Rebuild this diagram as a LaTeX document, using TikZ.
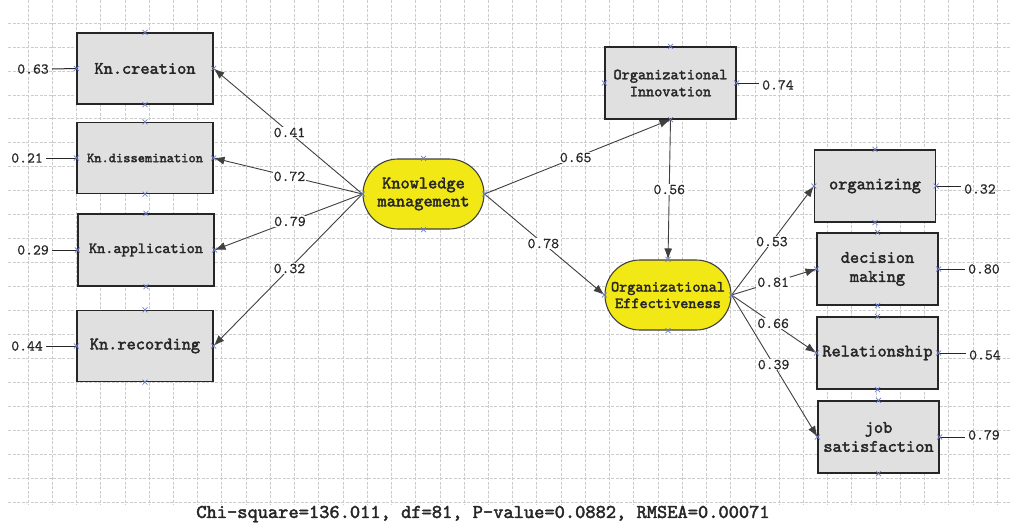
\documentclass[tikz,border=0pt]{standalone}
\usepackage{fontspec}
\newfontfamily\cour{lmmono10-regular.otf}[AutoFakeBold=2.2]
\newfontfamily\courn{lmmono10-regular.otf}[FakeBold=0.7]
\usetikzlibrary{arrows.meta}
\definecolor{boxgray}{RGB}{224,224,224}
\definecolor{semyellow}{RGB}{242,232,22}
\definecolor{xblue}{RGB}{110,128,200}
\begin{document}
\begin{tikzpicture}[x=1pt,y=-1pt,
  gridl/.style={draw=black!20, line width=0.7pt, dash pattern=on 3pt off 1.5pt},
  obox/.style={draw=black!85, fill=boxgray, line width=1.1pt, inner sep=0pt, align=center,
    text=black!85, font=\cour\bfseries\fontsize{17.5}{19}\selectfont},
  stad/.style={draw=black!75, fill=semyellow, line width=1.1pt, inner sep=0pt, align=center,
    rounded corners=35pt, text=black!85},
  errn/.style={inner sep=3pt, text=black!85, font=\courn\fontsize{15}{17}\selectfont},
  lab/.style={fill=white, inner sep=1pt, text=black!85, font=\courn\fontsize{15}{17}\selectfont},
  arr/.style={draw=black!75, line width=0.9pt, -{Latex[length=11pt,width=8pt]}},
  eline/.style={draw=black!85, line width=1pt},
  xm/.style={draw=xblue, line width=0.7pt}
]
\useasboundingbox (0,0) rectangle (1011,525);
\fill[white] (0,0) rectangle (1011,525);
% grid
\foreach \k in {0,...,40} \draw[gridl] ({28+24.23*\k},0) -- ({28+24.23*\k},505);
\foreach \k in {0,...,20} \draw[gridl] (8,{23+23.95*\k}) -- (1011,{23+23.95*\k});

% left indicators
\node[obox, minimum width=136pt, minimum height=71pt] (kc) at (145,68.5) {Kn.creation};
\node[obox, minimum width=136pt, minimum height=71pt, font=\cour\bfseries\fontsize{13.8}{16}\selectfont] (kd) at (145,158) {Kn.dissemination};
\node[obox, minimum width=136pt, minimum height=72pt, font=\cour\bfseries\fontsize{15.5}{18}\selectfont] (ka) at (146,250) {Kn.application};
\node[obox, minimum width=136pt, minimum height=71pt] (kr) at (145,346) {Kn.recording};

% latent / others
\node[stad, minimum width=121pt, minimum height=70pt, font=\cour\bfseries\fontsize{17.5}{18}\selectfont] (km) at (423.5,194) {Knowledge\\management};
\node[obox, minimum width=131pt, minimum height=72pt, font=\cour\bfseries\fontsize{15.5}{17}\selectfont] (oi) at (670.5,83) {Organizational\\Innovation};
\node[stad, minimum width=126pt, minimum height=70pt, font=\cour\bfseries\fontsize{15.5}{16.5}\selectfont] (oe) at (668,295) {Organizational\\Effectiveness};

% right indicators
\node[obox, minimum width=121pt, minimum height=72pt] (org) at (875,186) {organizing};
\node[obox, minimum width=121pt, minimum height=72pt] (dm) at (877.5,269) {decision\\making};
\node[obox, minimum width=121pt, minimum height=72pt] (rel) at (877.5,353) {Relationship};
\node[obox, minimum width=121pt, minimum height=72pt] (js) at (878.5,437) {job\\satisfaction};

% error terms
\node[errn, anchor=east] (e1) at (52,69) {0.63};
\node[errn, anchor=east] (e2) at (46,158) {0.21};
\node[errn, anchor=east] (e3) at (52,250) {0.29};
\node[errn, anchor=east] (e4) at (46,346) {0.44};
\draw[eline] (e1.east) -- (kc.west);
\draw[eline] (e2.east) -- (kd.west);
\draw[eline] (e3.east) -- (ka.west);
\draw[eline] (e4.east) -- (kr.west);

\node[errn, anchor=west] (e5) at (759,85) {0.74};
\node[errn, anchor=west] (e6) at (961,189) {0.32};
\node[errn, anchor=west] (e7) at (965,269) {0.80};
\node[errn, anchor=west] (e8) at (966,355) {0.54};
\node[errn, anchor=west] (e9) at (965,435) {0.79};
\draw[eline] (oi.east) -- (e5.west |- oi.east);
\draw[eline] (org.east) -- (e6.west |- org.east);
\draw[eline] (dm.east) -- (e7.west |- dm.east);
\draw[eline] (rel.east) -- (e8.west |- rel.east);
\draw[eline] (js.east) -- (e9.west |- js.east);

% structural paths
\draw[arr] (km.west) -- node[lab, pos=0.49] {0.41} (kc.east);
\draw[arr] (km.west) -- node[lab, pos=0.49] {0.72} (kd.east);
\draw[arr] (km.west) -- node[lab, pos=0.49] {0.79} (ka.east);
\draw[arr] (km.west) -- node[lab, pos=0.49] {0.32} (kr.east);
\draw[arr] (km.east) -- node[lab, pos=0.49] {0.65} (oi.south);
\draw[arr] (km.east) -- node[lab, pos=0.49] {0.78} (oe.west);
\draw[arr] (oi.south) -- node[lab, pos=0.5] {0.56} (oe.north);
\draw[arr] (oe.east) -- node[lab, pos=0.49] {0.53} (org.west);
\draw[arr] (oe.east) -- node[lab, pos=0.49] {0.81} (dm.west);
\draw[arr] (oe.east) -- node[lab, pos=0.49] {0.66} (rel.west);
\draw[arr] (oe.east) -- node[lab, pos=0.49] {0.39} (js.west);

% anchor marks
\foreach \n in {kc,kd,ka,kr,km,oi,oe,org,dm,rel,js}
  \foreach \a in {north,south,east,west}
    \draw[xm, shift={(\n.\a)}] (-2.5,-2.5) -- (2.5,2.5) (-2.5,2.5) -- (2.5,-2.5);

% fit statistics
\node[font=\cour\bfseries\fontsize{19.5}{21}\selectfont, text=black!85] (fit) at (483,514) {Chi-square=136.011, df=81, P-value=0.0882, RMSEA=0.00071};
\end{tikzpicture}
\end{document}
